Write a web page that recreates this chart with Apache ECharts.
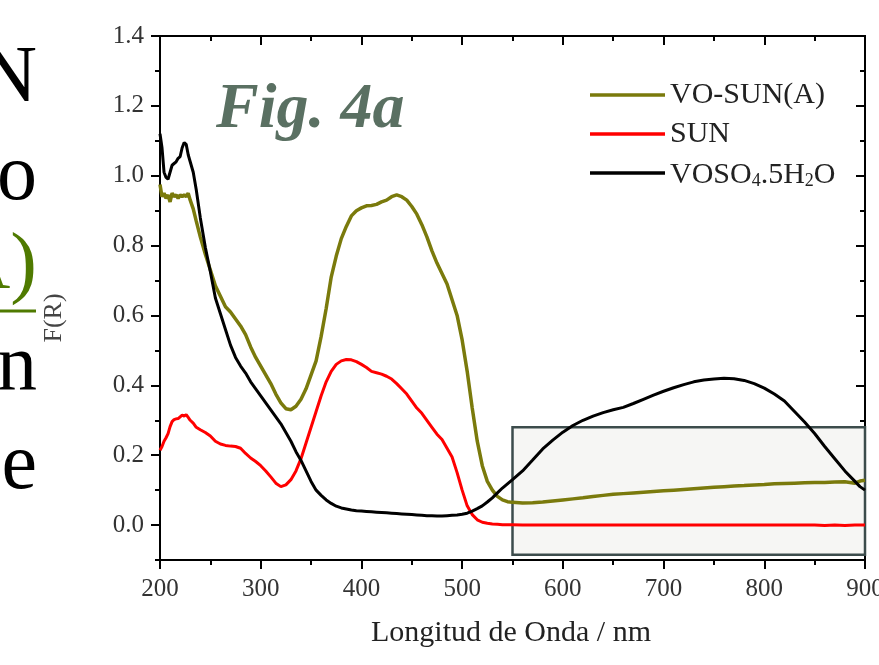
<!DOCTYPE html>
<html>
<head>
<meta charset="utf-8">
<script src="https://cdn.jsdelivr.net/npm/echarts@6/dist/echarts.min.js"></script>
<style>
  html, body { margin: 0; padding: 0; background: #fff; }
  #chart { width: 879px; height: 665px; }
</style>
</head>
<body>
<div id="chart"></div>
<script>
// wavelength (nm)
const wavelengths = [200, 202, 204, 206, 208, 210, 212, 214, 216, 218, 220, 222, 224, 226, 228, 230, 233, 236, 240, 245,
  250, 255, 260, 265, 270, 275, 280, 285, 290, 295, 300, 305, 310, 315, 320, 325, 330, 335, 340, 345,
  350, 355, 360, 365, 370, 375, 380, 385, 390, 395, 400, 405, 410, 415, 420, 425, 430, 435, 440, 445,
  450, 455, 460, 465, 470, 475, 480, 485, 490, 495, 500, 505, 510, 515, 520, 525, 530, 535, 540, 545,
  550, 560, 570, 580, 590, 600, 610, 620, 630, 640, 650, 660, 670, 680, 690, 700, 710, 720, 730, 740,
  750, 760, 770, 780, 790, 800, 810, 820, 830, 840, 850, 860, 870, 880, 890, 895, 900]

// F(R) VO-SUN(A)
const voSunA = [0.975, 0.94, 0.95, 0.935, 0.945, 0.925, 0.95, 0.94, 0.945, 0.935, 0.945, 0.94, 0.945, 0.94, 0.95, 0.93, 0.905, 0.87, 0.825, 0.775,
  0.73, 0.685, 0.655, 0.625, 0.61, 0.59, 0.57, 0.545, 0.51, 0.48, 0.455, 0.43, 0.405, 0.375, 0.35, 0.333, 0.33, 0.34, 0.36, 0.39,
  0.43, 0.47, 0.54, 0.62, 0.71, 0.77, 0.82, 0.855, 0.885, 0.9, 0.908, 0.914, 0.915, 0.918, 0.925, 0.93, 0.94, 0.945, 0.94, 0.93,
  0.912, 0.89, 0.86, 0.825, 0.785, 0.75, 0.72, 0.69, 0.645, 0.6, 0.53, 0.44, 0.335, 0.24, 0.17, 0.125, 0.1, 0.082, 0.072, 0.067,
  0.065, 0.063, 0.064, 0.066, 0.069, 0.072, 0.075, 0.078, 0.082, 0.085, 0.088, 0.09, 0.092, 0.094, 0.096, 0.098, 0.1, 0.102, 0.104, 0.106,
  0.108, 0.11, 0.112, 0.113, 0.115, 0.116, 0.118, 0.119, 0.12, 0.121, 0.122, 0.122, 0.123, 0.124, 0.12, 0.126, 0.128]

// F(R) SUN
const sun = [0.214, 0.225, 0.24, 0.25, 0.262, 0.282, 0.296, 0.302, 0.304, 0.305, 0.31, 0.315, 0.312, 0.316, 0.308, 0.3, 0.292, 0.28, 0.273, 0.265,
  0.255, 0.24, 0.232, 0.228, 0.226, 0.225, 0.22, 0.205, 0.192, 0.182, 0.17, 0.155, 0.138, 0.12, 0.11, 0.115, 0.13, 0.155, 0.19, 0.235,
  0.28, 0.325, 0.37, 0.41, 0.44, 0.46, 0.47, 0.474, 0.473, 0.468, 0.46, 0.451, 0.44, 0.436, 0.432, 0.426, 0.418, 0.405, 0.39, 0.375,
  0.355, 0.335, 0.32, 0.3, 0.28, 0.26, 0.245, 0.22, 0.195, 0.15, 0.1, 0.055, 0.03, 0.015, 0.008, 0.005, 0.003, 0.002, 0.001, 0.001,
  0.001, 0.0, 0.0, 0.0, 0.0, 0.0, 0.0, 0.0, 0.0, 0.0, 0.0, 0.0, 0.0, 0.0, 0.0, 0.0, 0.0, 0.0, 0.0, 0.0,
  0.0, 0.0, 0.0, 0.0, 0.0, 0.0, 0.0, 0.0, 0.0, 0.0, 0.0, -0.001, 0.0, -0.001, 0.0, 0.0, 0.0]

// F(R) VOSO4.5H2O
const voso4 = [1.12, 1.08, 1.01, 0.995, 0.99, 1.01, 1.03, 1.035, 1.04, 1.05, 1.055, 1.08, 1.095, 1.09, 1.06, 1.04, 1.01, 0.96, 0.88, 0.795,
  0.725, 0.65, 0.605, 0.56, 0.515, 0.48, 0.455, 0.435, 0.41, 0.39, 0.37, 0.35, 0.33, 0.31, 0.29, 0.265, 0.24, 0.21, 0.185, 0.155,
  0.125, 0.1, 0.085, 0.072, 0.062, 0.054, 0.049, 0.046, 0.043, 0.041, 0.04, 0.039, 0.038, 0.037, 0.036, 0.035, 0.034, 0.033, 0.032, 0.031,
  0.03, 0.029, 0.028, 0.027, 0.027, 0.026, 0.026, 0.027, 0.028, 0.029, 0.031, 0.034, 0.04, 0.047, 0.055, 0.066, 0.078, 0.092, 0.106, 0.118,
  0.13, 0.155, 0.186, 0.218, 0.243, 0.266, 0.285, 0.3, 0.312, 0.322, 0.33, 0.337, 0.348, 0.36, 0.372, 0.383, 0.393, 0.402, 0.41, 0.415,
  0.418, 0.42, 0.419, 0.414, 0.405, 0.392, 0.375, 0.355, 0.325, 0.295, 0.262, 0.225, 0.19, 0.155, 0.125, 0.11, 0.1]

const yMajorTicks = [0, 0.2, 0.4, 0.6, 0.8, 1.0, 1.2, 1.4]
const highlightBox = [550, 900, 0.28, -0.085]

const serif = '"Liberation Serif", "DejaVu Serif", serif'
const axisColor = '#000'

function pairs(values) {
  return wavelengths.map(function(w, i) {
    return [w, values[i]]
  })
}

function xAxisBase(position, inside) {
  return {
    type: 'value',
    position: position,
    min: 200,
    max: 900,
    interval: 100,
    axisLine: { show: true, onZero: false, lineStyle: { color: axisColor, width: 2 } },
    axisTick: { show: true, inside: inside, length: 9, lineStyle: { color: axisColor, width: 2 } },
    minorTick: { show: true, splitNumber: 2, length: 5, lineStyle: { color: axisColor, width: 2 } },
    splitLine: { show: false },
    minorSplitLine: { show: false },
    axisLabel: { show: false }
  }
}

function yAxisBase(position, inside) {
  return {
    type: 'value',
    position: position,
    min: -0.1,
    max: 1.4,
    interval: 0.1,
    axisLine: { show: true, onZero: false, lineStyle: { color: axisColor, width: 2 } },
    axisTick: { show: true, inside: inside, length: 5, lineStyle: { color: axisColor, width: 2 } },
    splitLine: { show: false },
    axisLabel: { show: false }
  }
}

const xBottom = xAxisBase('bottom', false)
xBottom.axisLabel = { show: true, margin: 17, color: '#333', fontFamily: serif, fontSize: 25 }
const xTop = xAxisBase('top', true)

const yLeftMinor = yAxisBase('left', false)
const yLeftMajor = yAxisBase('left', false)
yLeftMajor.axisTick = { show: true, inside: false, length: 9, customValues: yMajorTicks, lineStyle: { color: axisColor, width: 2 } }
yLeftMajor.axisLabel = {
  show: true, margin: 16, color: '#333', fontFamily: serif, fontSize: 25,
  customValues: yMajorTicks,
  formatter: function(v) { return v.toFixed(1) }
}
const yRightMinor = yAxisBase('right', true)
const yRightMajor = yAxisBase('right', true)
yRightMajor.axisTick = { show: true, inside: true, length: 9, customValues: yMajorTicks, lineStyle: { color: axisColor, width: 2 } }

const chart = echarts.init(document.getElementById('chart'))
chart.setOption({
  animation: false,
  backgroundColor: '#fff',
  grid: { left: 160, right: 14, top: 36, bottom: 105, containLabel: false, outerBoundsMode: 'none' },
  legend: {
    data: ['VO-SUN(A)', 'SUN', 'VOSO4.5H2O'],
    orient: 'vertical',
    left: 585,
    top: 73,
    icon: 'rect',
    itemWidth: 75,
    itemHeight: 3.5,
    itemGap: 5,
    textStyle: {
      fontFamily: serif,
      fontSize: 30,
      lineHeight: 34,
      color: '#222',
      rich: {
        a: { fontFamily: serif, fontSize: 30, lineHeight: 34, color: '#222', verticalAlign: 'bottom' },
        b: { fontFamily: serif, fontSize: 18, lineHeight: 8, color: '#222', verticalAlign: 'bottom' }
      }
    },
    formatter: function(name) {
      if (name === 'VOSO4.5H2O') {
        return '{a|VOSO}{b|4}{a|.5H}{b|2}{a|O}'
      }
      return name
    }
  },
  xAxis: [xBottom, xTop],
  yAxis: [yLeftMinor, yLeftMajor, yRightMinor, yRightMajor],
  graphic: [
    { type: 'text', style: { x: 37, y: 80, text: 'N', align: 'right', verticalAlign: 'middle', font: '80px ' + serif, fill: '#000' } },
    { type: 'text', style: { x: 37, y: 178, text: 'o', align: 'right', verticalAlign: 'middle', font: '80px ' + serif, fill: '#000' } },
    { type: 'text', style: { x: 37, y: 267, text: 'A)', align: 'right', verticalAlign: 'middle', font: '80px ' + serif, fill: '#4f7a00' } },
    { type: 'line', shape: { x1: 0, y1: 311, x2: 36, y2: 311 }, style: { stroke: '#4f7a00', lineWidth: 3 } },
    { type: 'text', style: { x: 37, y: 368, text: 'n', align: 'right', verticalAlign: 'middle', font: '80px ' + serif, fill: '#000' } },
    { type: 'text', style: { x: 37, y: 467, text: 'e', align: 'right', verticalAlign: 'middle', font: '80px ' + serif, fill: '#000' } },
    { type: 'text', x: 54, y: 318, rotation: Math.PI / 2, style: { x: 0, y: 0, text: 'F(R)', align: 'center', verticalAlign: 'middle', font: '26px ' + serif, fill: '#444' } },
    { type: 'text', style: { x: 216, y: 110, text: 'Fig. 4a', align: 'left', verticalAlign: 'middle', font: 'italic bold 64px ' + serif, fill: '#5a7062' } },
    { type: 'text', style: { x: 511, y: 633, text: 'Longitud de Onda / nm', align: 'center', verticalAlign: 'middle', font: '30px ' + serif, fill: '#222' } }
  ],
  series: [
    {
      name: 'box',
      type: 'line',
      xAxisIndex: 0,
      yAxisIndex: 1,
      data: [],
      z: 1,
      markArea: {
        silent: true,
        itemStyle: { color: '#f6f6f4', borderColor: '#3c4c4c', borderWidth: 2.5 },
        data: [[{ coord: [highlightBox[0], highlightBox[2]] }, { coord: [highlightBox[1], highlightBox[3]] }]]
      }
    },
    {
      name: 'VO-SUN(A)',
      type: 'line',
      xAxisIndex: 0,
      yAxisIndex: 1,
      z: 3,
      showSymbol: false,
      color: '#7a7a0c',
      lineStyle: { width: 3.5, color: '#7a7a0c' },
      data: pairs(voSunA)
    },
    {
      name: 'SUN',
      type: 'line',
      xAxisIndex: 0,
      yAxisIndex: 1,
      z: 3,
      showSymbol: false,
      color: '#ff0000',
      lineStyle: { width: 3, color: '#ff0000' },
      data: pairs(sun)
    },
    {
      name: 'VOSO4.5H2O',
      type: 'line',
      xAxisIndex: 0,
      yAxisIndex: 1,
      z: 3,
      showSymbol: false,
      color: '#000',
      lineStyle: { width: 3, color: '#000' },
      data: pairs(voso4)
    }
  ]
})
</script>
</body>
</html>
